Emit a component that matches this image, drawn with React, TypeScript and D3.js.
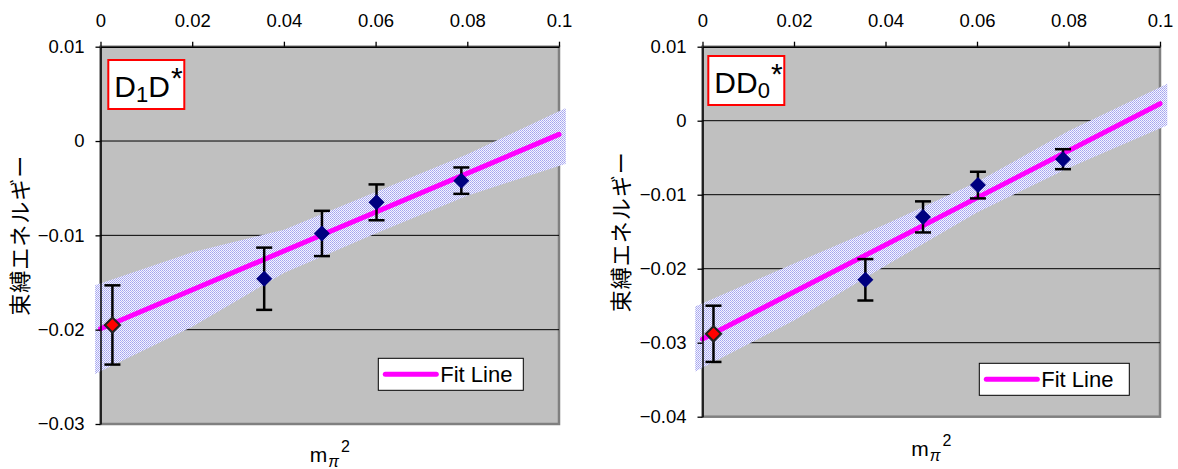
import { useEffect, useRef } from "react";
import * as d3 from "d3";

// shared x axis (top)
const xTicks = [0, 0.02, 0.04, 0.06, 0.08, 0.1];
const yTitle = "束縛エネルギー";

// D1D* panel
const d1dYTicks = [0.01, 0, -0.01, -0.02, -0.03];
const d1dX = [0.0026, 0.0357, 0.0483, 0.0602, 0.0787];
const d1dY = [-0.0195, -0.0146, -0.0098, -0.0065, -0.0042];
const d1dErr = [0.0042, 0.0033, 0.0024, 0.0019, 0.0014];
const d1dFitX = [0, 0.1];
const d1dFitY = [-0.0199, 0.0007];
const d1dBandX = [-0.0012, 0.02, 0.04, 0.06, 0.08, 0.1015];
const d1dBandUpper = [-0.0153, -0.0118, -0.0094, -0.0054, -0.0014, 0.0035];
const d1dBandLower = [-0.0247, -0.0197, -0.014, -0.0098, -0.0058, -0.0024];

// DD0* panel
const dd0YTicks = [0.01, 0, -0.01, -0.02, -0.03, -0.04];
const dd0X = [0.0024, 0.0356, 0.0482, 0.0602, 0.0788];
const dd0Y = [-0.0288, -0.0215, -0.013, -0.0087, -0.0052];
const dd0Err = [0.0038, 0.0028, 0.0021, 0.0018, 0.00135];
const dd0FitX = [0, 0.1];
const dd0FitY = [-0.0295, 0.0023];
const dd0BandX = [-0.0016, 0.02, 0.04, 0.06, 0.08, 0.1016];
const dd0BandUpper = [-0.0251, -0.0193, -0.014, -0.0083, -0.0014, 0.005];
const dd0BandLower = [-0.0339, -0.027, -0.0196, -0.0124, -0.0064, -0.0006];

const font = "'Liberation Sans', Arial, sans-serif";
const jpFont = "'Noto Sans CJK JP', sans-serif";

const fmt = (v: number) => (v < 0 ? "\u2212" : "") + String(+Math.abs(v).toFixed(3));

const panels = [
    {
        id: "d1d", left: 100.5, right: 559, top: 46.7, bottom: 424,
        yDomain: [-0.03, 0.01], yTicks: d1dYTicks,
        px: d1dX, py: d1dY, err: d1dErr,
        fitX: d1dFitX, fitY: d1dFitY,
        bandX: d1dBandX, bandUpper: d1dBandUpper, bandLower: d1dBandLower,
        label: [["D", ""], ["1", "sub"], ["D", ""], ["*", "sup"]],
        box: {x: 108.3, y: 60, w: 76, h: 49},
        legend: {x: 378.3, y: 358.3, w: 145, h: 32},
        yTitleX: 18, xTitleY: 461.5
    },
    {
        id: "dd0", left: 702.5, right: 1160, top: 46.7, bottom: 416.7,
        yDomain: [-0.04, 0.01], yTicks: dd0YTicks,
        px: dd0X, py: dd0Y, err: dd0Err,
        fitX: dd0FitX, fitY: dd0FitY,
        bandX: dd0BandX, bandUpper: dd0BandUpper, bandLower: dd0BandLower,
        label: [["DD", ""], ["0", "sub"], ["*", "sup"]],
        box: {x: 708.3, y: 56, w: 76, h: 49},
        legend: {x: 979.3, y: 363.3, w: 150, h: 32},
        yTitleX: 619, xTitleY: 456
    }
];

function drawPanel(svg, p) {
    const x = d3.scaleLinear().domain([0, 0.1]).range([p.left, p.right]);
    const y = d3.scaleLinear().domain(p.yDomain).range([p.bottom, p.top]);
    const g = svg.append("g");

    // dotted fill for the band
    const pat = svg.select("defs").append("pattern")
        .attr("id", p.id + "-dots")
        .attr("width", 2).attr("height", 2)
        .attr("patternUnits", "userSpaceOnUse");
    pat.append("rect").attr("width", 2).attr("height", 2).attr("fill", "#f4f4ff");
    pat.append("rect").attr("width", 1).attr("height", 1).attr("fill", "#a4a4ee");
    pat.append("rect").attr("x", 1).attr("y", 1).attr("width", 1).attr("height", 1).attr("fill", "#b4b4f2");

    // plot area
    g.append("rect")
        .attr("x", p.left).attr("y", p.top)
        .attr("width", p.right - p.left).attr("height", p.bottom - p.top)
        .attr("fill", "#c0c0c0")
        .attr("stroke", "#808080")
        .attr("stroke-width", 2.5);

    // gridlines
    g.selectAll(".grid")
        .data(p.yTicks.filter(t => t > p.yDomain[0] && t < p.yDomain[1]))
        .join("line")
        .attr("x1", p.left).attr("x2", p.right)
        .attr("y1", d => y(d)).attr("y2", d => y(d))
        .attr("stroke", "#000").attr("stroke-width", 1);

    // band
    const area = d3.area()
        .x(d => x(d[0]))
        .y0(d => y(d[2]))
        .y1(d => y(d[1]));
    g.append("path")
        .datum(d3.zip(p.bandX, p.bandUpper, p.bandLower))
        .attr("d", area)
        .attr("fill", `url(#${p.id}-dots)`);

    // fit line
    const line = d3.line().x(d => x(d[0])).y(d => y(d[1]));
    g.append("path")
        .datum(d3.zip(p.fitX, p.fitY))
        .attr("d", line)
        .attr("fill", "none")
        .attr("stroke", "#ff00ff")
        .attr("stroke-width", 5)
        .attr("stroke-linecap", "round");

    // axes
    const xAxis = g.append("g")
        .attr("transform", `translate(0,${p.top})`)
        .call(d3.axisTop(x).tickValues(xTicks).tickSize(5).tickSizeOuter(0).tickPadding(15).tickFormat(fmt));
    const yAxis = g.append("g")
        .attr("transform", `translate(${p.left},0)`)
        .call(d3.axisLeft(y).tickValues(p.yTicks).tickSize(5).tickSizeOuter(0).tickPadding(11).tickFormat(fmt));
    [xAxis, yAxis].forEach(a => {
        a.select(".domain").attr("stroke", "#000").attr("stroke-width", 1.5);
        a.selectAll(".tick line").attr("stroke", "#000").attr("stroke-width", 1.3);
        a.selectAll("text")
            .attr("fill", "#000")
            .style("font-family", font)
            .style("font-size", "18.5px");
    });
    xAxis.selectAll("text").attr("dy", "0");

    // error bars
    const pts = d3.zip(p.px, p.py, p.err);
    const eb = g.append("g").attr("stroke", "#000").attr("stroke-width", 2.5);
    eb.selectAll(".v").data(pts).join("line")
        .attr("x1", d => x(d[0])).attr("x2", d => x(d[0]))
        .attr("y1", d => y(d[1] + d[2])).attr("y2", d => y(d[1] - d[2]));
    eb.selectAll(".ct").data(pts).join("line")
        .attr("x1", d => x(d[0]) - 8).attr("x2", d => x(d[0]) + 8)
        .attr("y1", d => y(d[1] + d[2])).attr("y2", d => y(d[1] + d[2]));
    eb.selectAll(".cb").data(pts).join("line")
        .attr("x1", d => x(d[0]) - 8).attr("x2", d => x(d[0]) + 8)
        .attr("y1", d => y(d[1] - d[2])).attr("y2", d => y(d[1] - d[2]));

    // diamonds
    const diamond = (cx, cy, r) => `M${cx},${cy - r}L${cx + r},${cy}L${cx},${cy + r}L${cx - r},${cy}Z`;
    g.selectAll(".pt").data(pts).join("path")
        .attr("d", (d, i) => diamond(x(d[0]), y(d[1]), i === 0 ? 7.5 : 8))
        .attr("fill", (d, i) => i === 0 ? "#ff0000" : "#000080")
        .attr("stroke", (d, i) => i === 0 ? "#222" : "none")
        .attr("stroke-width", 2.2);

    // label box
    g.append("rect")
        .attr("x", p.box.x).attr("y", p.box.y)
        .attr("width", p.box.w).attr("height", p.box.h)
        .attr("fill", "#fff").attr("stroke", "#ff0000").attr("stroke-width", 2);
    const lab = g.append("text")
        .attr("x", p.box.x + 6).attr("y", p.box.y + 36.5)
        .style("font-family", font).style("font-size", "30px").attr("fill", "#000");
    let shift = 0;
    p.label.forEach(([t, kind]) => {
        const target = kind === "sub" ? 5 : kind === "sup" ? -9 : 0;
        lab.append("tspan")
            .attr("dy", target - shift)
            .attr("dx", kind === "sup" ? 1 : 0)
            .style("font-size", kind === "sup" ? "30px" : kind ? "22px" : "30px")
            .text(t);
        shift = target;
    });

    // legend
    const lg = p.legend;
    g.append("rect")
        .attr("x", lg.x).attr("y", lg.y).attr("width", lg.w).attr("height", lg.h)
        .attr("fill", "#fff").attr("stroke", "#000").attr("stroke-width", 1);
    g.append("line")
        .attr("x1", lg.x + 7).attr("x2", lg.x + 58)
        .attr("y1", lg.y + lg.h / 2).attr("y2", lg.y + lg.h / 2)
        .attr("stroke", "#ff00ff").attr("stroke-width", 5).attr("stroke-linecap", "round");
    g.append("text")
        .attr("x", lg.x + 62).attr("y", lg.y + lg.h / 2 + 8)
        .style("font-family", font).style("font-size", "22px")
        .text("Fit Line");

    // y title
    g.append("text")
        .attr("transform", `translate(${p.yTitleX},${(p.top + p.bottom) / 2}) rotate(-90)`)
        .attr("text-anchor", "middle")
        .attr("dominant-baseline", "central")
        .style("font-family", jpFont).style("font-size", "22px")
        .style("letter-spacing", "1px")
        .text(yTitle);

    // x title
    const xt = g.append("text")
        .attr("x", (p.left + p.right) / 2 - 20).attr("y", p.xTitleY)
        .style("font-family", font).style("font-size", "21px");
    xt.append("tspan").text("m");
    xt.append("tspan").attr("dy", 5).attr("dx", 1).style("font-size", "16px").style("font-style", "italic").text("π");
    xt.append("tspan").attr("dy", -15).attr("dx", 2).style("font-size", "16px").text("2");
}

const App = () => {
    const ref = useRef(null);

    useEffect(() => {
        if (ref.current) {
            const svg = d3.select(ref.current);
            svg.selectAll("*").remove();
            svg.append("defs");
            panels.forEach(p => drawPanel(svg, p));
        }
    }, []);

    return (
        <svg
            ref={ref}
            width={1178}
            height={469}
            style={{position: "absolute", left: 0, top: 0, background: "#fff"}}/>
    );
};

export default App;
